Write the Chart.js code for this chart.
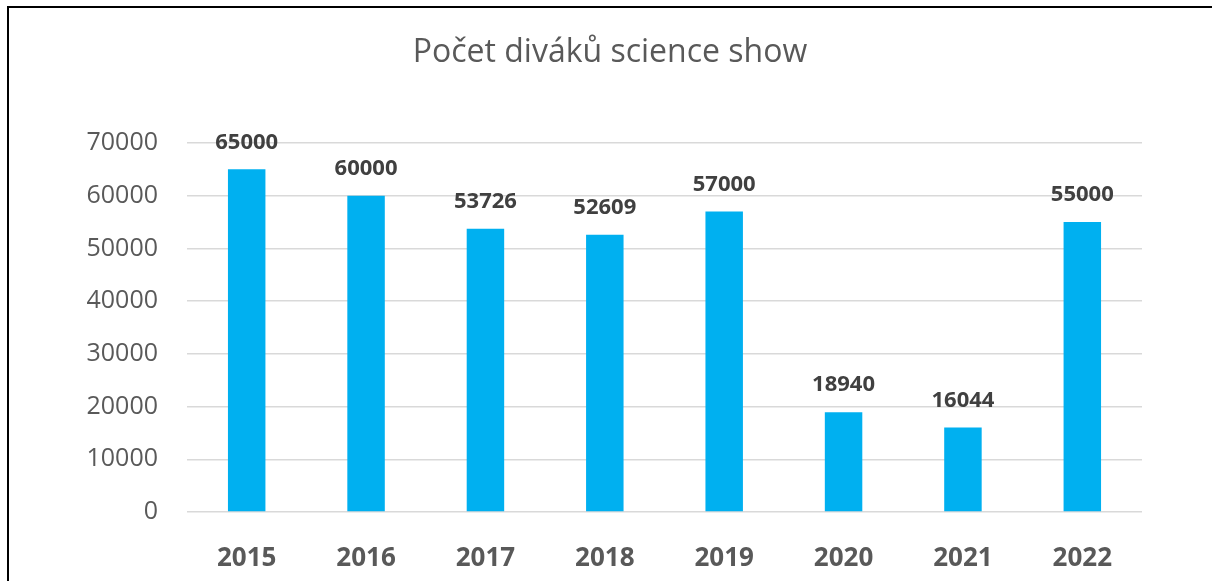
<!DOCTYPE html>
<html>
<head>
<meta charset="utf-8">
<script src="https://cdn.jsdelivr.net/npm/chart.js@4/dist/chart.umd.min.js"></script>
<style>
    html, body { margin: 0; padding: 0; background: #fff; overflow: hidden; }
    #wrap { position: relative; width: 1212px; height: 581px; }
    #frame { position: absolute; left: 7px; top: 6px; width: 1300px; height: 700px;
             border-top: 2px solid #000; border-left: 2px solid #000; pointer-events: none; }
    canvas { position: absolute; left: 0; top: 0; }
</style>
</head>
<body>
<div id="wrap">
    <canvas id="chart" width="1212" height="581"></canvas>
    <div id="frame"></div>
</div>
<script>
// --------------------------------------------------------------------------
// DATA
// --------------------------------------------------------------------------
const TITLE = 'Počet diváků science show';
const years = ['2015', '2016', '2017', '2018', '2019', '2020', '2021', '2022'];
const viewers = [65000, 60000, 53726, 52609, 57000, 18940, 16044, 55000];
const yTicks = [0, 10000, 20000, 30000, 40000, 50000, 60000, 70000];

const FONT = '"Open Sans", "Noto Sans", sans-serif';

// title + value labels drawn on top of the chart
const labelsPlugin = {
    id: 'labels',
    afterDatasetsDraw(chart) {
        const ctx = chart.ctx;
        ctx.save();
        ctx.fillStyle = '#595959';
        ctx.font = '32px ' + FONT;
        ctx.textAlign = 'center';
        ctx.textBaseline = 'middle';
        ctx.fillText(TITLE, 610, 53);

        ctx.fillStyle = '#404040';
        ctx.font = 'bold 22px ' + FONT;
        chart.getDatasetMeta(0).data.forEach((bar, i) => {
            ctx.fillText(String(viewers[i]), bar.x, bar.y - 27);
        });
        ctx.restore();
    }
};

new Chart(document.getElementById('chart'), {
    type: 'bar',
    data: {
        labels: years,
        datasets: [{
            data: viewers,
            backgroundColor: '#00B0F0',
            barPercentage: 0.314,
            categoryPercentage: 1.0,
        }]
    },
    plugins: [labelsPlugin],
    options: {
        responsive: false,
        animation: false,
        layout: { padding: { left: 0, right: 70, top: 143, bottom: 0 } },
        plugins: { legend: { display: false }, title: { display: false }, tooltip: { enabled: false } },
        scales: {
            x: {
                grid: { display: false },
                border: { display: false },
                ticks: { color: '#595959', font: { family: FONT, size: 26, weight: 'bold' }, padding: 23 },
                afterFit(scale) { scale.height = 69; }
            },
            y: {
                min: 0,
                max: 70000,
                afterBuildTicks(scale) { scale.ticks = yTicks.map(v => ({ value: v })); },
                grid: { color: '#D9D9D9', lineWidth: 1.5, drawTicks: false },
                border: { display: false },
                ticks: { color: '#595959', font: { family: FONT, size: 25 }, padding: 29, callback: v => String(v) },
                afterFit(scale) { scale.width = 187; }
            }
        }
    }
});
</script>
</body>
</html>
